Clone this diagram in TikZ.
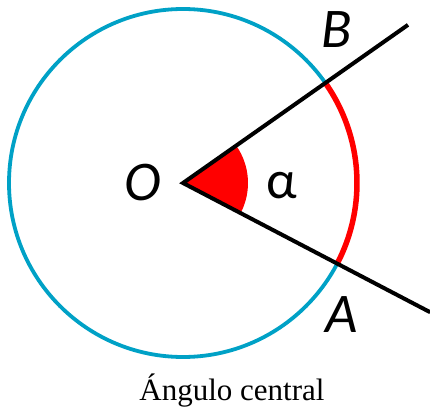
\documentclass[tikz,border=0pt]{standalone}
\usepackage{fontspec}
\setmainfont{Liberation Serif}
\newfontfamily\rotulo{Carlito}
\usepackage{tikz}
\usetikzlibrary{calc}

\definecolor{azulcirc}{RGB}{0,161,198}

\begin{document}
\begin{tikzpicture}[x=1pt, y=1pt]
    \useasboundingbox (-183, -226) rectangle (247, 183);
    \coordinate (O) at (0, 0);

    \pgfmathsetmacro{\radio}{174}   % radio de la circunferencia
    \pgfmathsetmacro{\angA}{-27.6}
    \pgfmathsetmacro{\angB}{35.1}
    \pgfmathsetmacro{\rsec}{65}

    \coordinate (Bext) at (\angB:275);
    \coordinate (Aext) at (\angA:279);

    \draw[azulcirc, line width=3.8pt] (O) circle (\radio);
    \draw[red, line width=5.5pt] (\angA:\radio) arc[start angle=\angA, end angle=\angB, radius=\radio];
    \path[fill=red, draw=none] (O) -- (\angA:\rsec) arc[start angle=\angA, end angle=\angB, radius=\rsec] -- cycle;

    \draw[line width=4pt, line join=miter] (Bext) -- (O) -- (Aext);

    \node (lO) at (-40, 0) {\rotulo\fontsize{56}{56}\selectfont\itshape O};
    \node (lB) at (154, 153) {\rotulo\fontsize{56}{56}\selectfont\itshape B};
    \node (lA) at (159, -132) {\rotulo\fontsize{56}{56}\selectfont\itshape A};
    \node (alfa) at (99, -3) {\rotulo\fontsize{54}{54}\selectfont α};

    \node[anchor=base] (titulo) at (49, -217) {\fontsize{31}{31}\selectfont Ángulo central};
\end{tikzpicture}
\end{document}
